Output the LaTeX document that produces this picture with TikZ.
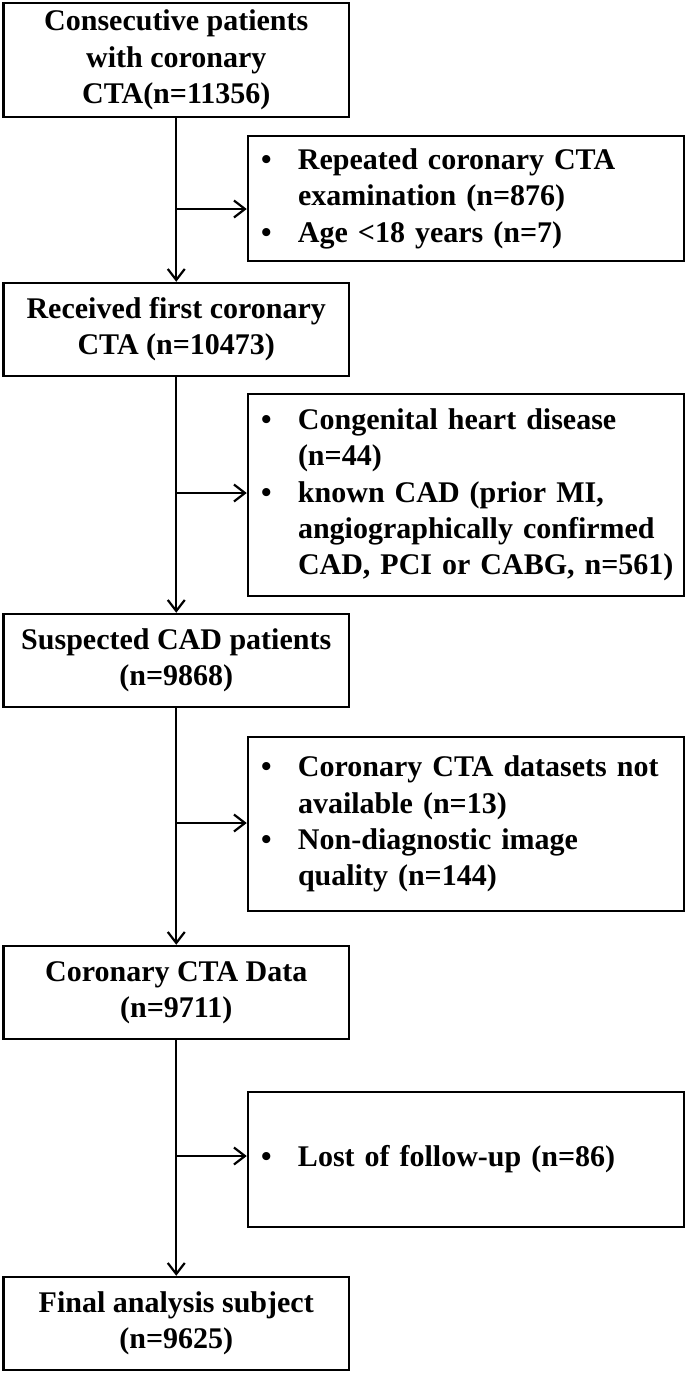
\documentclass[tikz,border=0pt]{standalone}
\usepackage{fontspec}
\setmainfont{Liberation Serif}
\usetikzlibrary{arrows.meta}
\newcommand{\boxlines}[2][-3pt]{\raisebox{#1}{\begin{tabular}{@{}c@{}}#2\end{tabular}}}
\newcommand{\exlines}[2][-3pt]{\raisebox{#1}{\begin{tabular}{@{}p{37pt}@{}l@{}}#2\end{tabular}}}
\begin{document}
\begin{tikzpicture}[x=1pt,y=-1pt,
  mainbox/.style={draw, line width=2.5pt, rectangle, inner sep=0pt, minimum width=345.5pt,
    font=\fontsize{30}{36.3}\selectfont\bfseries},
  exbox/.style={draw, line width=2.5pt, rectangle, inner xsep=13pt, inner ysep=0pt,
    minimum width=436pt, text width=410pt, align=left,
    font=\fontsize{30}{36.3}\selectfont\bfseries},
  arr/.style={line width=2.3pt, -{Straight Barb[length=11pt,width=17pt,line width=2.2pt]}}
]
\useasboundingbox (0,0) rectangle (685,1373);

\node[mainbox, minimum height=114.3pt] (b1) at (176.25,60)
  {\boxlines[-4.5pt]{Consecutive patients\\with coronary\\CTA(n=11356)}};
\node[mainbox, minimum height=93pt] (b2) at (176.25,329.5)
  {\boxlines{Received first coronary\\CTA (n=10473)}};
\node[mainbox, minimum height=93pt] (b3) at (176.25,660.5)
  {\boxlines{Suspected CAD patients\\(n=9868)}};
\node[mainbox, minimum height=93pt] (b4) at (176.25,992.5)
  {\boxlines{Coronary CTA Data\\(n=9711)}};
\node[mainbox, minimum height=93pt] (b5) at (176.25,1323.5)
  {\boxlines{Final analysis subject\\(n=9625)}};

\node[exbox, minimum height=125pt] (e1) at (466,198.5)
  {\exlines[-3.5pt]{• & Repeated coronary CTA\\ & examination (n=876)\\ • & Age <18 years (n=7)}};
\node[exbox, minimum height=202pt] (e2) at (466,495)
  {\exlines[-2pt]{• & Congenital heart disease\\ & (n=44)\\ • & known CAD (prior MI,\\ & angiographically confirmed\\ & CAD, PCI or CABG, n=561)}};
\node[exbox, minimum height=174pt] (e3) at (466,824)
  {\exlines[-2.5pt]{• & Coronary CTA datasets not\\ & available (n=13)\\ • & Non-diagnostic image\\ & quality (n=144)}};
\node[exbox, minimum height=135pt] (e4) at (466,1159.5)
  {\exlines{• & Lost of follow-up (n=86)}};

\coordinate (j1) at (176.25,209);
\coordinate (j2) at (176.25,493);
\coordinate (j3) at (176.25,823);
\coordinate (j4) at (176.25,1156);

\draw[arr] (b1) -- (b2);
\draw[arr] (b2) -- (b3);
\draw[arr] (b3) -- (b4);
\draw[arr] (b4) -- (b5);
\draw[arr] (j1) -- (j1 -| e1.west);
\draw[arr] (j2) -- (j2 -| e2.west);
\draw[arr] (j3) -- (j3 -| e3.west);
\draw[arr] (j4) -- (j4 -| e4.west);
\end{tikzpicture}
\end{document}
